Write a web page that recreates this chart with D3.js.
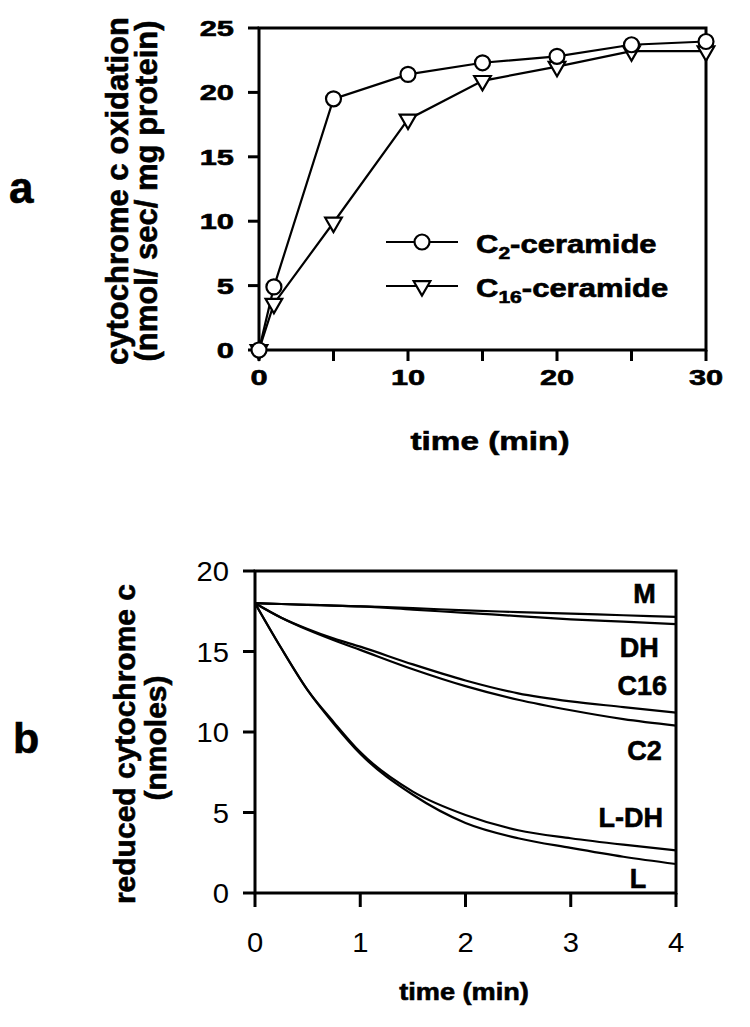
<!DOCTYPE html>
<html>
<head>
<meta charset="utf-8">
<script src="https://cdn.jsdelivr.net/npm/d3@7"></script>
<style>
  body { margin: 0; background: #fff; }
  svg { display: block; font-family: "Liberation Sans", Arial, sans-serif; }
  .heavy { stroke: #000; stroke-width: 0.6px; }
</style>
</head>
<body>
<svg id="fig" width="750" height="1027"></svg>
<script>
// panel a: cytochrome c oxidation vs time
const timeA = [0, 1, 5, 10, 15, 20, 25, 30];
const c2Ceramide = [0, 4.9, 19.5, 21.4, 22.3, 22.8, 23.7, 23.95];
const c16Ceramide = [0, 3.6, 9.9, 17.9, 20.9, 22.0, 23.2, 23.2];
const ticksAx = [0, 10, 20, 30];
const ticksAxMinor = [0, 5, 10, 15, 20, 25, 30];
const ticksAy = [0, 5, 10, 15, 20, 25];

// panel b: reduced cytochrome c traces
const timeB = [0, 0.25, 0.5, 0.75, 1, 1.5, 2, 2.5, 3, 3.5, 4];
const traceM   = [18, 17.95, 17.9, 17.85, 17.8, 17.7, 17.55, 17.45, 17.35, 17.25, 17.15];
const traceDH  = [18, 17.95, 17.9, 17.85, 17.8, 17.6, 17.4, 17.2, 17.0, 16.85, 16.7];
const traceC16 = [18, 17.1, 16.4, 15.8, 15.3, 14.2, 13.2, 12.4, 11.9, 11.55, 11.2];
const traceC2  = [18, 17.1, 16.35, 15.7, 15.1, 13.9, 12.85, 12.0, 11.35, 10.8, 10.4];
const traceLDH = [18, 15.2, 12.6, 10.6, 8.75, 6.3, 4.85, 3.9, 3.4, 3.0, 2.65];
const traceL   = [18, 15.2, 12.6, 10.5, 8.65, 6.1, 4.35, 3.4, 2.8, 2.25, 1.8];
const tracesB = [traceM, traceDH, traceC16, traceC2, traceLDH, traceL];
const labelsB = [
  {text: "M", t: 3.70, v: 18.0},
  {text: "DH", t: 3.65, v: 14.66},
  {text: "C16", t: 3.68, v: 12.3},
  {text: "C2", t: 3.70, v: 8.26},
  {text: "L-DH", t: 3.57, v: 4.1},
  {text: "L", t: 3.64, v: 0.31}
];
const ticksBx = [0, 1, 2, 3, 4];
const ticksBy = [0, 5, 10, 15, 20];

const svg = d3.select("#fig");

function wideText(g, x, y, str, sx) {
  return g.append("text")
    .attr("transform", `translate(${x},${y}) scale(${sx},1)`)
    .text(str);
}

// ---------- panel a ----------
const xA = d3.scaleLinear().domain([0, 30]).range([259, 706]);
const yA = d3.scaleLinear().domain([0, 25]).range([350, 28]);
const gA = svg.append("g");

gA.append("rect")
  .attr("x", xA(0)).attr("y", yA(25))
  .attr("width", xA(30) - xA(0)).attr("height", yA(0) - yA(25))
  .attr("fill", "none").attr("stroke", "#000").attr("stroke-width", 3);

gA.selectAll("line.ty").data(ticksAy).join("line")
  .attr("x1", xA(0) - 11).attr("x2", xA(0))
  .attr("y1", d => yA(d)).attr("y2", d => yA(d))
  .attr("stroke", "#000").attr("stroke-width", 3);
gA.selectAll("line.tx").data(ticksAxMinor).join("line")
  .attr("x1", d => xA(d)).attr("x2", d => xA(d))
  .attr("y1", yA(0)).attr("y2", yA(0) + 11)
  .attr("stroke", "#000").attr("stroke-width", 3);

const tickTxtA = gA.append("g").attr("class", "heavy")
  .attr("font-weight", "bold").attr("font-size", 22);
ticksAy.forEach(d => {
  wideText(tickTxtA, xA(0) - 25, yA(d) + 8, d, 1.4).attr("text-anchor", "end");
});
ticksAx.forEach(d => {
  wideText(tickTxtA, xA(d), 385, d, 1.4).attr("text-anchor", "middle");
});

wideText(gA, 490, 450, "time (min)", 1.28).attr("class", "heavy")
  .attr("text-anchor", "middle").attr("font-weight", "bold").attr("font-size", 26);

const titleA = gA.append("g").attr("class", "heavy")
  .attr("transform", "translate(0,191) rotate(-90)")
  .attr("font-weight", "bold").attr("font-size", 31).attr("text-anchor", "middle");
titleA.append("text").attr("x", 0).attr("y", 128).text("cytochrome c oxidation");
titleA.append("text").attr("x", 0).attr("y", 157).text("(nmol/ sec/ mg protein)");

svg.append("text").attr("class", "heavy").attr("x", 9).attr("y", 203)
  .attr("font-weight", "bold").attr("font-size", 44).text("a");

const lineA = d3.line().x((d, i) => xA(timeA[i])).y(d => yA(d));
gA.append("path").datum(c2Ceramide).attr("d", lineA)
  .attr("fill", "none").attr("stroke", "#000").attr("stroke-width", 2.2);
gA.append("path").datum(c16Ceramide).attr("d", lineA)
  .attr("fill", "none").attr("stroke", "#000").attr("stroke-width", 2.2);

const tri = d3.symbol().type(d3.symbolTriangle).size(120);
gA.selectAll("path.tri").data(c16Ceramide).join("path")
  .attr("class", "tri")
  .attr("d", tri)
  .attr("transform", (d, i) => `translate(${xA(timeA[i])},${yA(d)}) rotate(180)`)
  .attr("fill", "#fff").attr("stroke", "#000").attr("stroke-width", 2.2);
gA.selectAll("circle.c2").data(c2Ceramide).join("circle")
  .attr("class", "c2")
  .attr("cx", (d, i) => xA(timeA[i])).attr("cy", d => yA(d)).attr("r", 7.5)
  .attr("fill", "#fff").attr("stroke", "#000").attr("stroke-width", 2.2);

// legend
const leg = gA.append("g");
[{y: 242, sym: "circle", sub: "2"}, {y: 286, sym: "tri", sub: "16"}].forEach(r => {
  leg.append("line").attr("x1", 386).attr("x2", 458).attr("y1", r.y).attr("y2", r.y)
    .attr("stroke", "#000").attr("stroke-width", 2.2);
  if (r.sym === "circle") {
    leg.append("circle").attr("cx", 422).attr("cy", r.y).attr("r", 7.5)
      .attr("fill", "#fff").attr("stroke", "#000").attr("stroke-width", 2.2);
  } else {
    leg.append("path").attr("d", tri)
      .attr("transform", `translate(422,${r.y}) rotate(180)`)
      .attr("fill", "#fff").attr("stroke", "#000").attr("stroke-width", 2.2);
  }
  const t = wideText(leg, 476, r.y + 11, "", 1.24).attr("class", "heavy")
    .attr("font-weight", "bold").attr("font-size", 25);
  t.append("tspan").text("C");
  t.append("tspan").attr("font-size", 17).attr("dy", 6).text(r.sub);
  t.append("tspan").attr("dy", -6).text("-ceramide");
});

// ---------- panel b ----------
const xB = d3.scaleLinear().domain([0, 4]).range([255, 676]);
const yB = d3.scaleLinear().domain([0, 20]).range([893, 571]);
const gB = svg.append("g");

gB.append("rect")
  .attr("x", xB(0)).attr("y", yB(20))
  .attr("width", xB(4) - xB(0)).attr("height", yB(0) - yB(20))
  .attr("fill", "none").attr("stroke", "#000").attr("stroke-width", 3);

gB.selectAll("line.ty").data(ticksBy).join("line")
  .attr("x1", xB(0) - 12).attr("x2", xB(0))
  .attr("y1", d => yB(d)).attr("y2", d => yB(d))
  .attr("stroke", "#000").attr("stroke-width", 3);
gB.selectAll("line.tx").data(ticksBx).join("line")
  .attr("x1", d => xB(d)).attr("x2", d => xB(d))
  .attr("y1", yB(0)).attr("y2", yB(0) + 14)
  .attr("stroke", "#000").attr("stroke-width", 3);

const tickTxtB = gB.append("g").attr("font-size", 27);
ticksBy.forEach(d => {
  wideText(tickTxtB, xB(0) - 26, yB(d) + 10, d, 1.08).attr("text-anchor", "end");
});
ticksBx.forEach(d => {
  wideText(tickTxtB, xB(d), 952, d, 1.08).attr("text-anchor", "middle");
});

wideText(gB, 464, 1000, "time (min)", 1.18).attr("class", "heavy")
  .attr("text-anchor", "middle").attr("font-weight", "bold").attr("font-size", 23);

const titleB = gB.append("g").attr("class", "heavy")
  .attr("transform", "translate(0,744) rotate(-90)")
  .attr("font-weight", "bold").attr("font-size", 30).attr("text-anchor", "middle");
titleB.append("text").attr("x", 0).attr("y", 135).text("reduced cytochrome c");
titleB.append("text").attr("x", 6).attr("y", 166).text("(nmoles)");

svg.append("text").attr("class", "heavy").attr("x", 13).attr("y", 753)
  .attr("font-weight", "bold").attr("font-size", 43).text("b");

const lineB = d3.line().x((d, i) => xB(timeB[i])).y(d => yB(d)).curve(d3.curveMonotoneX);
gB.selectAll("path.trace").data(tracesB).join("path")
  .attr("class", "trace")
  .attr("d", lineB)
  .attr("fill", "none").attr("stroke", "#000").attr("stroke-width", 2.2);

gB.selectAll("text.lab").data(labelsB).join("text")
  .attr("class", "lab heavy")
  .attr("x", d => xB(d.t)).attr("y", d => yB(d.v))
  .attr("text-anchor", "middle").attr("font-weight", "bold").attr("font-size", 27)
  .text(d => d.text);
</script>
</body>
</html>
